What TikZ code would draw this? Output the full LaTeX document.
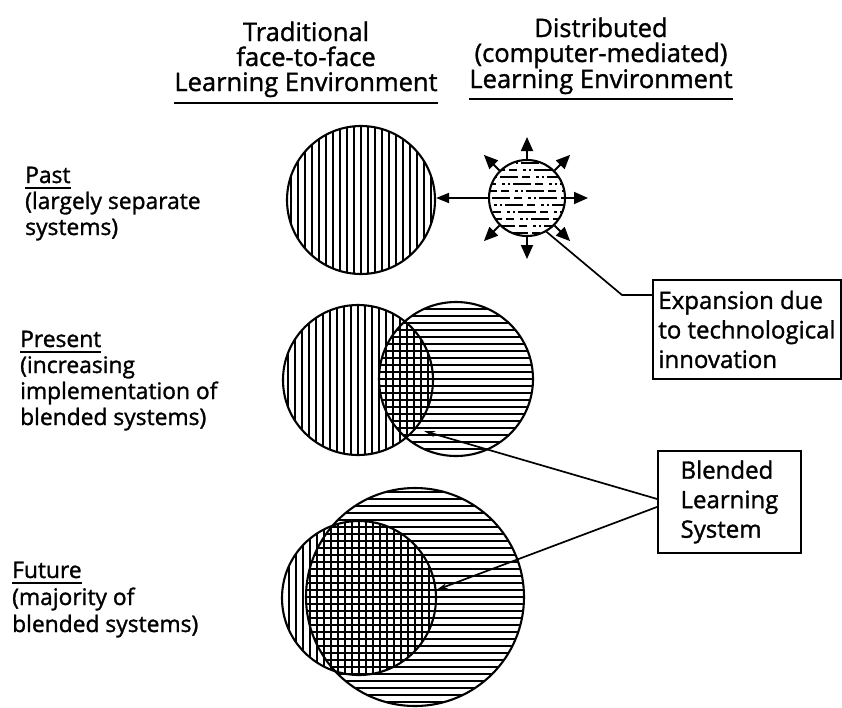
\documentclass[tikz,border=0pt]{standalone}
\usepackage{fontspec}
\setmainfont{Open Sans}[BoldFont=Open Sans, BoldFeatures={FakeBold=1.3}]
\usetikzlibrary{arrows.meta,calc}
\begin{document}
\begin{tikzpicture}[x=1pt,y=-1pt,
  txt/.style={inner sep=0pt, font=\fontsize{22.8}{26}\selectfont\bfseries},
  htxt/.style={inner sep=0pt, font=\fontsize{25.5}{26}\selectfont\bfseries},
  uline/.style={line width=1.9pt},
  hl/.style={line width=1.5pt},
  vhatch/.style={path picture={\foreach \i in {-126,-119,...,126}{\draw[hl] ([xshift=\i pt]path picture bounding box.north) -- ([xshift=\i pt]path picture bounding box.south);}}},
  hhatch/.style={path picture={\foreach \i in {-126,-119,...,126}{\draw[hl] ([yshift=\i pt]path picture bounding box.west) -- ([yshift=\i pt]path picture bounding box.east);}}},
  dhatch/.style={path picture={\foreach \i [count=\k] in {-42,-35,...,42}{\pgfmathsetmacro\ph{mod(\k*13,47)}\draw[hl, dash pattern=on 18pt off 4pt on 8pt off 6pt on 3pt off 3pt on 2pt off 3pt, dash phase=\ph pt] ([yshift=\i pt]path picture bounding box.west) -- ([yshift=\i pt]path picture bounding box.east);}}},
  ring/.style={circle, draw, line width=2.1pt, inner sep=0pt, minimum size=#1},
  conn/.style={line width=1.7pt},
  sunarr/.style={line width=1.8pt, -{Triangle[length=14pt,width=12pt]}},
  box/.style={draw, line width=1.9pt, inner sep=0pt, font=\fontsize{24}{29.5}\selectfont\bfseries, align=left}
]
\useasboundingbox (0,0) rectangle (842,707);

% headers
\node[htxt, anchor=base] (hL1) at (306,41) {Traditional};
\node[htxt, anchor=base] (hL2) at (306,66) {face-to-face};
\node[htxt, anchor=base] (hL3) at (306,91) {Learning Environment};
\draw[uline] ([yshift=-12pt]hL3.base west) -- ([yshift=-12pt]hL3.base east);
\node[htxt, anchor=base] (hR1) at (601,37) {Distributed};
\node[htxt, anchor=base] (hR2) at (601,62) {(computer-mediated)};
\node[htxt, anchor=base] (hR3) at (601,88) {Learning Environment};
\draw[uline] ([yshift=-11pt]hR3.base west) -- ([yshift=-11pt]hR3.base east);

% row labels
\node[txt, anchor=base west] (pa1) at (25,183) {Past};
\draw[uline] ([yshift=-5pt]pa1.base west) -- ([yshift=-5pt]pa1.base east);
\node[txt, anchor=base west] (pa2) at (25,209) {(largely separate};
\node[txt, anchor=base west] (pa3) at (25,235) {systems)};
\node[txt, anchor=base west] (pr1) at (20,347) {Present};
\draw[uline] ([yshift=-5pt]pr1.base west) -- ([yshift=-5pt]pr1.base east);
\node[txt, anchor=base west] (pr2) at (20,373) {(increasing};
\node[txt, anchor=base west] (pr3) at (20,399) {implementation of};
\node[txt, anchor=base west] (pr4) at (20,425) {blended systems)};
\node[txt, anchor=base west] (fu1) at (12,578) {Future};
\draw[uline] ([yshift=-5pt]fu1.base west) -- ([yshift=-5pt]fu1.base east);
\node[txt, anchor=base west] (fu2) at (12,605) {(majority of};
\node[txt, anchor=base west] (fu3) at (12,632) {blended systems)};

% past
\node[ring=148pt, vhatch] (pastT) at (361,200) {};
\node[ring=76pt, dhatch] (sun) at (527,198) {};
\foreach \a in {0,45,90,135,225,270,315}
  \draw[sunarr] (sun.\a) -- ([shift={(\a:61pt)}]sun.center);
\draw[conn, -{Triangle[length=13pt,width=10pt]}] (sun.west) -- (sun.west -| pastT.east);

% present
\node[ring=150pt, vhatch] (presT) at (358,380) {};
\node[ring=154pt, hhatch] (presD) at (456,379) {};
\coordinate (lensP) at (424,431);

% future
\node[ring=218pt, hhatch] (futD) at (415,597) {};
\node[ring=154pt, vhatch] (futT) at (359,598) {};

% boxes
\node[box, anchor=north west, minimum width=188pt, minimum height=99pt] (expbox) at (652,279) {Expansion due\\to technological\\innovation};
\node[box, anchor=north west, minimum width=143pt, minimum height=102pt] (blbox) at (657,450) {Blended\\Learning\\System};

\coordinate (expelbow) at (622,295);
\draw[conn] (sun.-60) -- (expelbow) -- (expelbow -| expbox.west);
\draw[conn, -{Stealth[length=11pt,width=6pt]}] ([yshift=3pt]blbox.west) -- (lensP);
\draw[conn, -{Stealth[length=11pt,width=6pt]}] ([yshift=-5pt]blbox.west) -- (futT.6);
\end{tikzpicture}
\end{document}
